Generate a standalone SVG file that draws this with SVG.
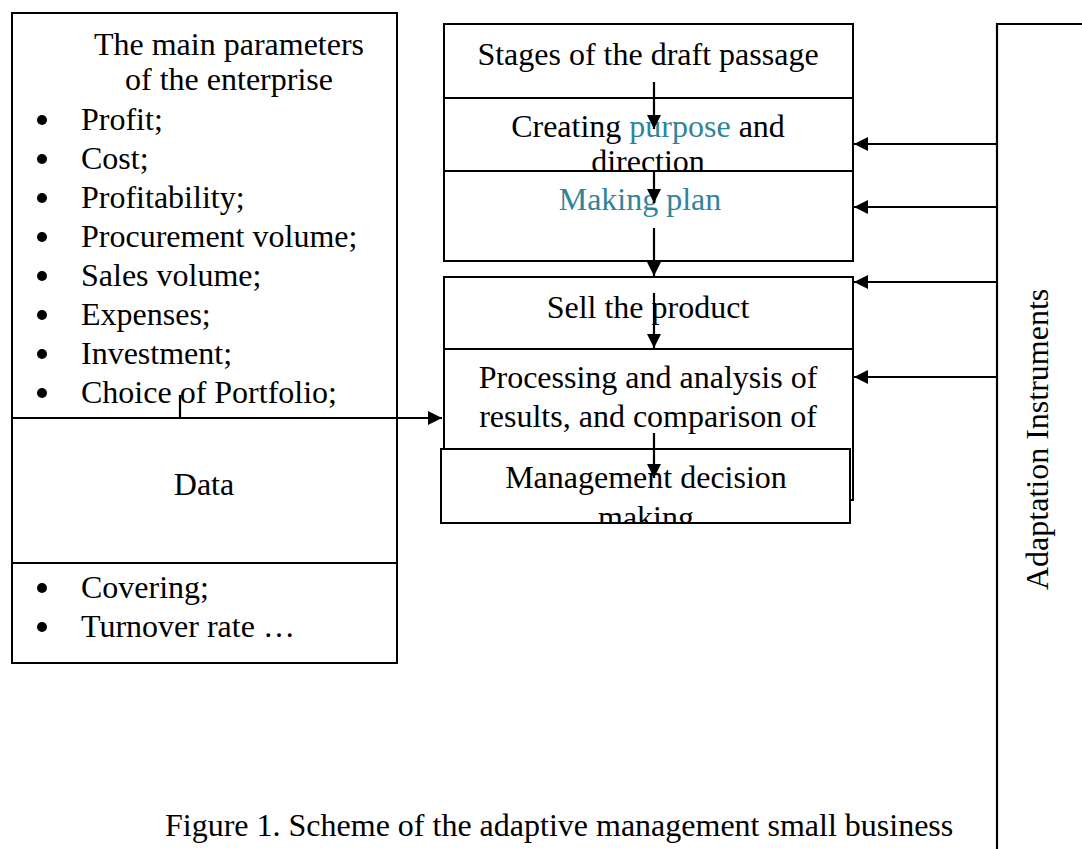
<svg xmlns="http://www.w3.org/2000/svg" width="1082" height="849" viewBox="0 0 1082 849">
<style>
.box{fill:#fff;stroke:#000;stroke-width:2}
.t{font-family:"Liberation Serif","Times New Roman",serif;font-size:32px;fill:#000}
.c{text-anchor:middle}
.teal{fill:#31849B}
.ln{stroke:#000;stroke-width:2.2;fill:none}
</style>
<defs>
<marker id="ahs" viewBox="0 0 14 14" refX="14" refY="7" markerWidth="14" markerHeight="14" markerUnits="userSpaceOnUse" orient="auto">
<path d="M0,0 L14,7 L0,14 Z" fill="#000"/>
</marker>
<clipPath id="clipDir"><rect x="444" y="98" width="409" height="73"/></clipPath>
<clipPath id="clipMgmt"><rect x="441" y="449" width="409" height="74"/></clipPath>
</defs>

<g id="params">
<rect class="box" x="12" y="13" width="385" height="650"/>
<text class="t c" x="229" y="55">The main parameters</text>
<text class="t c" x="229" y="90">of the enterprise</text>
<g fill="#000">
<circle cx="42" cy="120" r="5"/><circle cx="42" cy="159" r="5"/><circle cx="42" cy="198" r="5"/><circle cx="42" cy="237" r="5"/>
<circle cx="42" cy="276" r="5"/><circle cx="42" cy="315" r="5"/><circle cx="42" cy="354" r="5"/><circle cx="42" cy="393" r="5"/>
<circle cx="42" cy="588" r="5"/><circle cx="42" cy="627" r="5"/>
</g>
<text class="t" x="81" y="130">Profit;</text>
<text class="t" x="81" y="169">Cost;</text>
<text class="t" x="81" y="208">Profitability;</text>
<text class="t" x="81" y="247">Procurement volume;</text>
<text class="t" x="81" y="286">Sales volume;</text>
<text class="t" x="81" y="325">Expenses;</text>
<text class="t" x="81" y="364">Investment;</text>
<text class="t" x="81" y="403">Choice of Portfolio;</text>
<text class="t" x="81" y="598">Covering;</text>
<text class="t" x="81" y="637">Turnover rate …</text>
</g>

<g id="data">
<rect class="box" x="12" y="418" width="385" height="145"/>
<text class="t c" x="204" y="495">Data</text>
</g>

<g id="stages">
<rect class="box" x="444" y="24" width="409" height="74"/>
<text class="t c" x="648" y="65">Stages of the draft passage</text>
</g>

<g id="purpose">
<rect class="box" x="444" y="98" width="409" height="73"/>
<g clip-path="url(#clipDir)">
<text class="t c" x="648" y="137">Creating <tspan class="teal">purpose</tspan> and</text>
<text class="t c" x="648" y="172">direction</text>
</g>
</g>

<g id="plan">
<rect class="box" x="444" y="171" width="409" height="90"/>
<text class="t c teal" x="640" y="210">Making  plan</text>
</g>

<g id="sell">
<rect class="box" x="444" y="277" width="409" height="72"/>
<text class="t c" x="648" y="318">Sell the product</text>
</g>

<g id="processing">
<rect class="box" x="444" y="349" width="409" height="151"/>
<text class="t c" x="648" y="388">Processing and analysis of</text>
<text class="t c" x="648" y="427">results, and comparison of</text>
</g>

<g id="decision">
<rect class="box" x="441" y="449" width="409" height="74"/>
<g clip-path="url(#clipMgmt)">
<text class="t c" x="646" y="488">Management decision</text>
<text class="t c" x="646" y="528">making</text>
</g>
</g>

<g id="instruments">
<path class="ln" d="M997,860 L997,24 L1090,24"/>
<text class="t" transform="translate(1048,590) rotate(-90)">Adaptation Instruments</text>
</g>

<g id="connectors">
<path class="ln" d="M654,82 L654,129" marker-end="url(#ahs)"/>
<path class="ln" d="M654,170 L654,203" marker-end="url(#ahs)"/>
<path class="ln" d="M654,228 L654,276" marker-end="url(#ahs)"/>
<path class="ln" d="M654,293 L654,348" marker-end="url(#ahs)"/>
<path class="ln" d="M654,433 L654,478" marker-end="url(#ahs)"/>
<path class="ln" d="M180,395 L180,418 L442,418" marker-end="url(#ahs)"/>
<path class="ln" d="M997,144 L854,144" marker-end="url(#ahs)"/>
<path class="ln" d="M997,207 L854,207" marker-end="url(#ahs)"/>
<path class="ln" d="M997,282 L854,282" marker-end="url(#ahs)"/>
<path class="ln" d="M997,377 L854,377" marker-end="url(#ahs)"/>
</g>

<text class="t" x="165" y="836">Figure 1. Scheme of the adaptive management small business</text>
</svg>
